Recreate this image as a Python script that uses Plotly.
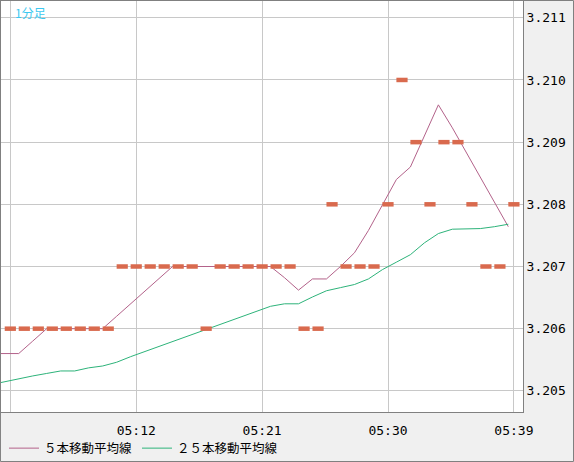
import plotly.graph_objects as go
import pandas as pd

# ---- data ----
candle_times = [f"05:{m:02d}" for m in range(3, 40)]
candle_close = [3.206, 3.206, 3.206, 3.206, 3.206, 3.206, 3.206, 3.206,
                3.207, 3.207, 3.207, 3.207, 3.207, 3.207,
                3.206,
                3.207, 3.207, 3.207, 3.207, 3.207, 3.207,
                3.206, 3.206,
                3.208,
                3.207, 3.207, 3.207,
                3.208, 3.210, 3.209, 3.208, 3.209, 3.209, 3.208, 3.207, 3.207, 3.208]

ma_times = [f"05:{m:02d}" for m in range(2, 40)]
ma5 = [3.2056, 3.2056, 3.2056, 3.2058, 3.2060, 3.2060, 3.2060, 3.2060, 3.2060,
       3.2062, 3.2064, 3.2066, 3.2068, 3.2070, 3.2070, 3.2070, 3.2070, 3.2070,
       3.2070, 3.2070, 3.2070, 3.20682, 3.20662, 3.20680, 3.20680, 3.20700,
       3.20722, 3.20758, 3.20799, 3.20840, 3.20860, 3.20910, 3.20960, 3.20923,
       3.20883, 3.20843, 3.20804, 3.20764]
ma25 = [3.20510, 3.20515, 3.20520, 3.20524, 3.20528, 3.20532, 3.20532, 3.20537,
        3.20540, 3.20546, 3.20555, 3.20563, 3.20571, 3.20579, 3.20587, 3.20595,
        3.20604, 3.20612, 3.20620, 3.20628, 3.20636, 3.20640, 3.20640, 3.20651,
        3.20661, 3.20666, 3.20671, 3.20680, 3.20695, 3.20707, 3.20719, 3.20738,
        3.20753, 3.20760, 3.20761, 3.20761, 3.20764, 3.20768]

x_ticks = ["05:03", "05:12", "05:21", "05:30", "05:39"]
x_ticktext = ["", "05:12", "05:21", "05:30", "05:39"]
y_ticks = [3.205, 3.206, 3.207, 3.208, 3.209, 3.210, 3.211]
y_ticktext = ["3.205", "3.206", "3.207", "3.208", "3.209", "3.210", "3.211"]

DAY = "2000-01-01 "
def ts(hm):
    return pd.Timestamp(DAY + hm)

MA_SHIFT = pd.Timedelta(seconds=-24)

cx = [ts(t) for t in candle_times]
mx = [ts(t) + MA_SHIFT for t in ma_times]

fig = go.Figure()
fig.add_trace(go.Scatter(
    x=mx, y=ma5, mode="lines", name="５本移動平均線",
    line=dict(color="#b3628a", width=1)))
fig.add_trace(go.Scatter(
    x=mx, y=ma25, mode="lines", name="２５本移動平均線",
    line=dict(color="#2db37a", width=1)))
fig.add_trace(go.Scatter(
    x=cx, y=candle_close, mode="markers", showlegend=False,
    marker=dict(symbol="line-ew", size=8,
                line=dict(color="#d96a4e", width=4.5))))

axis_font = dict(family="DejaVu Sans Mono", size=13, color="#000000")

fig.update_layout(
    width=574, height=462,
    margin=dict(l=1, r=51, t=1, b=50, autoexpand=False),
    paper_bgcolor="#f0f0f0",
    plot_bgcolor="#ffffff",
    showlegend=True,
    legend=dict(orientation="h", xref="container", yref="container",
                x=4 / 574, y=1 - 448.5 / 462, xanchor="left", yanchor="middle",
                font=dict(family="Noto Sans CJK JP", size=12.5, color="#000000"),
                bgcolor="rgba(0,0,0,0)", borderwidth=0),
    xaxis=dict(
        type="date", automargin=False,
        range=[pd.Timestamp(DAY + "05:02:20"), pd.Timestamp(DAY + "05:39:39")],
        tickvals=[ts(t) for t in x_ticks], ticktext=x_ticktext,
        showgrid=True, gridcolor="#c8c8c8", gridwidth=1,
        showline=True, linecolor="#808080", linewidth=1, mirror=True,
        ticks="", ticklabelstandoff=6, tickfont=axis_font, zeroline=False, fixedrange=True),
    yaxis=dict(
        side="right", automargin=False,
        range=[3.20466, 3.21127],
        tickvals=y_ticks, ticktext=y_ticktext,
        showgrid=True, gridcolor="#c8c8c8", gridwidth=1,
        showline=True, linecolor="#808080", linewidth=1, mirror=True,
        ticks="", ticklabelstandoff=0, tickfont=axis_font, zeroline=False, fixedrange=True),
    annotations=[dict(
        text="1分足", xref="paper", yref="paper", x=(13 - 1) / 522, y=(412 - 2) / 411,
        xanchor="left", yanchor="top", showarrow=False,
        font=dict(family="Noto Sans CJK JP", size=12, color="#3cc8f0"))],
    shapes=[dict(
        type="rect", xref="paper", yref="paper",
        x0=-0.001, x1=(573.5 - 1) / 522, y0=(412 - 461.5) / 411, y1=1.0012,
        line=dict(color="#808080", width=1), fillcolor="rgba(0,0,0,0)",
        layer="below")],
)

fig.write_html("out.html", config={"displayModeBar": False, "staticPlot": True},
               post_script="document.body.style.margin='0';document.body.style.overflow='hidden';")
